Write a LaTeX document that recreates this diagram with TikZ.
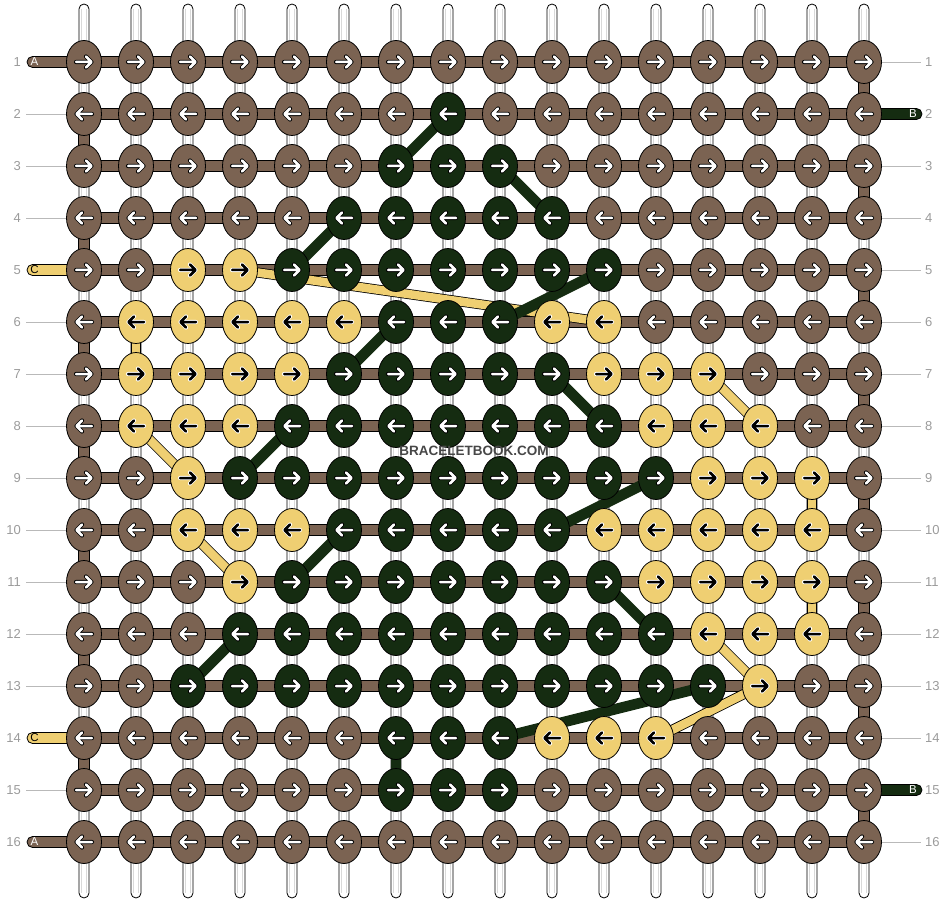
\documentclass[tikz,border=0pt]{standalone}
\usepackage{fontspec}
\setmainfont{Liberation Sans}
\usepackage{tikz}
\usetikzlibrary{shapes.geometric}
\definecolor{brn}{RGB}{123,99,82}
\definecolor{grn}{RGB}{21,44,17}
\definecolor{ylw}{RGB}{239,207,114}
\definecolor{lbl}{RGB}{155,155,155}
\colorlet{knotb}{brn}
\colorlet{knotg}{grn}
\colorlet{knoty}{ylw}
\colorlet{tipb}{white}
\colorlet{tipg}{white}
\colorlet{tipy}{black}
\colorlet{rimb}{black}
\colorlet{rimg}{black}
\colorlet{rimy}{white}
\pgfdeclarelayer{strings}
\pgfdeclarelayer{threads}
\pgfsetlayers{strings,threads,main}
\tikzstyle{knot} = [ellipse, 
minimum width=35pt, 
minimum height=43pt, 
inner sep=0pt, 
draw=black, 
line width=0.8pt]
\tikzstyle{base} = [draw=black, 
fill=white, 
line width=0.8pt, 
rounded corners=5pt]
\tikzstyle{bar} = [draw=black, 
fill=brn, 
line width=0.8pt]
\tikzstyle{ythread} = [draw=black, line width=0.8pt, double=ylw, double distance=8.5pt]
\tikzstyle{gthread} = [draw=grn, line width=0.8pt, double=grn, double distance=9pt]
\tikzstyle{tip} = [line cap=round, line join=round]
\tikzstyle{num} = [text=lbl, font=\fontsize{13}{13}\selectfont, inner sep=0pt]
\tikzstyle{rowline} = [draw=lbl!70, line width=0.8pt]
\tikzstyle{tag} = [font=\fontsize{11.5}{11.5}\selectfont, inner sep=0pt]
\tikzstyle{wmark} = [font=\bfseries\fontsize{13.5}{14}\selectfont, inner sep=0pt]

\begin{document}
\begin{tikzpicture}[x=1pt, y=-1pt]
	\useasboundingbox (0,0) rectangle (948,904);
	\begin{pgfonlayer}{strings}
		\foreach \c in {1,...,16} {
			\path[base] ({27+52*\c},4) rectangle ({37+52*\c},898);
			\draw[gray!30, line width=0.5pt] ({29.5+52*\c},9) -- ({29.5+52*\c},893) ({34.5+52*\c},9) -- ({34.5+52*\c},893);
		}
		% side strings
		\foreach \r/\col in {1/brn,5/ylw,14/ylw,16/brn}
			\path[bar, fill=\col, rounded corners=5.5pt] (27,{4.5+52*\r}) rectangle (95,{15.5+52*\r});
		\foreach \r in {2,15}
			\path[bar, fill=grn, rounded corners=5.5pt] (850,{4.5+52*\r}) rectangle (922,{15.5+52*\r});
		\foreach \r in {1,...,16}
			\path[bar] (84,{4.5+52*\r}) rectangle (864,{15.5+52*\r});
		% turns at the edges
		\foreach \r in {2,4,...,14}
			\path[bar] (78.5,{10+52*\r}) rectangle (89.5,{62+52*\r});
		\foreach \r in {1,3,...,15}
			\path[bar] (858.5,{10+52*\r}) rectangle (869.5,{62+52*\r});
	\end{pgfonlayer}

	\foreach \r/\pat in {
		1/{b,b,b,b,b,b,b,b,b,b,b,b,b,b,b,b},
		2/{b,b,b,b,b,b,b,g,b,b,b,b,b,b,b,b},
		3/{b,b,b,b,b,b,g,g,g,b,b,b,b,b,b,b},
		4/{b,b,b,b,b,g,g,g,g,g,b,b,b,b,b,b},
		5/{b,b,y,y,g,g,g,g,g,g,g,b,b,b,b,b},
		6/{b,y,y,y,y,y,g,g,g,y,y,b,b,b,b,b},
		7/{b,y,y,y,y,g,g,g,g,g,y,y,y,b,b,b},
		8/{b,y,y,y,g,g,g,g,g,g,g,y,y,y,b,b},
		9/{b,b,y,g,g,g,g,g,g,g,g,g,y,y,y,b},
		10/{b,b,y,y,y,g,g,g,g,g,y,y,y,y,y,b},
		11/{b,b,b,y,g,g,g,g,g,g,g,y,y,y,y,b},
		12/{b,b,b,g,g,g,g,g,g,g,g,g,y,y,y,b},
		13/{b,b,g,g,g,g,g,g,g,g,g,g,g,y,b,b},
		14/{b,b,b,b,b,b,g,g,g,y,y,y,b,b,b,b},
		15/{b,b,b,b,b,b,g,g,g,b,b,b,b,b,b,b},
		16/{b,b,b,b,b,b,b,b,b,b,b,b,b,b,b,b}} {
		\pgfmathsetmacro\dir{mod(\r,2)==1 ? 1 : -1}
		\foreach \k [count=\c] in \pat {
			\node[knot, fill=knot\k] (k-\r-\c) at ({32+52*\c},{10+52*\r}) {};
			\begin{scope}[shift={(k-\r-\c.center)}, xscale=\dir]
				\draw[tip, draw=rim\k, line width=4.2pt] (-8,0) -- (7,0) (2,-5.5) -- (7.5,0) -- (2,5.5);
				\draw[tip, draw=tip\k, line width=2.5pt] (-8,0) -- (7,0) (2,-5.5) -- (7.5,0) -- (2,5.5);
			\end{scope}
		}
	}

	\begin{pgfonlayer}{threads}
		\draw[ythread] (k-6-2.center) -- (k-7-2.center);
		\draw[ythread] (k-9-15.center) -- (k-10-15.center);
		\draw[ythread] (k-11-15.center) -- (k-12-15.center);
		\draw[ythread] (k-5-4.center) -- (k-6-11.center);
		\draw[ythread] (k-7-13.center) -- (k-8-14.center);
		\draw[ythread] (k-8-2.center) -- (k-9-3.center);
		\draw[ythread] (k-10-3.center) -- (k-11-4.center);
		\draw[ythread] (k-12-13.center) -- (k-13-14.center);
		\draw[ythread] (k-13-14.center) -- (k-14-12.center);
		\draw[gthread] (k-14-7.center) -- (k-15-7.center);
		\draw[gthread] (k-2-8.center) -- (k-3-7.center);
		\draw[gthread] (k-3-9.center) -- (k-4-10.center);
		\draw[gthread] (k-4-6.center) -- (k-5-5.center);
		\draw[gthread] (k-5-11.center) -- (k-6-9.center);
		\draw[gthread] (k-6-7.center) -- (k-7-6.center);
		\draw[gthread] (k-7-10.center) -- (k-8-11.center);
		\draw[gthread] (k-8-5.center) -- (k-9-4.center);
		\draw[gthread] (k-9-12.center) -- (k-10-10.center);
		\draw[gthread] (k-10-6.center) -- (k-11-5.center);
		\draw[gthread] (k-11-11.center) -- (k-12-12.center);
		\draw[gthread] (k-12-4.center) -- (k-13-3.center);
		\draw[gthread] (k-13-13.center) -- (k-14-9.center);
	\end{pgfonlayer}

	\foreach \r in {1,...,16} {
		\node[num, anchor=east] (ln-\r) at (21,{10+52*\r}) {\r};
		\node[num, anchor=west] (rn-\r) at (925,{10+52*\r}) {\r};
	}
	\foreach \r in {2,3,4,6,7,8,9,10,11,12,13,15}
		\draw[rowline, shorten <=5pt] (ln-\r) -- (k-\r-1);
	\foreach \r in {1,3,4,5,6,7,8,9,10,11,12,13,14,16}
		\draw[rowline, shorten >=4pt] (k-\r-16) -- (rn-\r);

	\node[tag, text=white] (sa-1) at (34.5,62) {A};
	\node[tag, text=black] (sc-5) at (34.5,270) {C};
	\node[tag, text=black] (sc-14) at (34.5,738) {C};
	\node[tag, text=white] (sa-16) at (34.5,842) {A};
	\node[tag, text=white] (sb-2) at (913,114) {B};
	\node[tag, text=white] (sb-15) at (913,790) {B};

	\node[wmark, text=black!72] (wm) at (474,451) {BRACELETBOOK.COM};
\end{tikzpicture}
\end{document}
